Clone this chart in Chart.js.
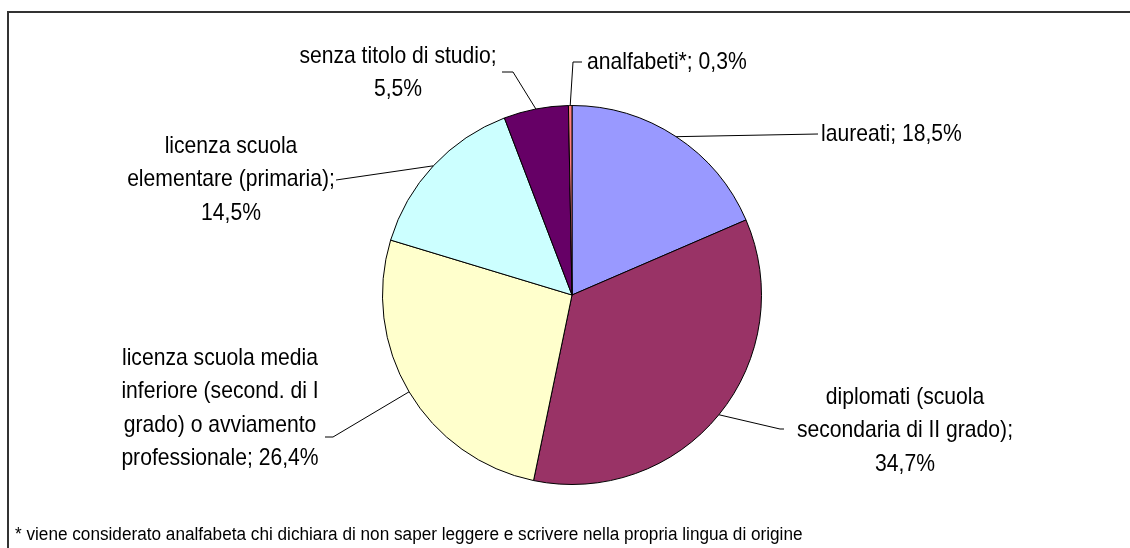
<!DOCTYPE html>
<html>
<head>
<meta charset="utf-8">
<script src="https://cdn.jsdelivr.net/npm/chart.js@4.4.0/dist/chart.umd.min.js"></script>
<style>
  body{margin:0;background:#fff}
  #wrap{width:1130px;height:548px;position:relative}
</style>
</head>
<body>
<div id="wrap"><canvas id="torta"></canvas></div>
<script>
// titoli di studio
const categorie=["laureati","diplomati (scuola secondaria di II grado)","licenza scuola media inferiore (second. di I grado) o avviamento professionale","licenza scuola elementare (primaria)","senza titolo di studio","analfabeti*"]
const percentuali=[18.5,34.7,26.4,14.5,5.5,0.3]
const colori=["#9999FF","#993366","#FFFFCC","#CCFFFF","#660066","#FF8080"]
const etichette=[
  ["laureati; 18,5%"],
  ["diplomati (scuola","secondaria di II grado);","34,7%"],
  ["licenza scuola media","inferiore (second. di I","grado) o avviamento","professionale; 26,4%"],
  ["licenza scuola","elementare (primaria);","14,5%"],
  ["senza titolo di studio;","5,5%"],
  ["analfabeti*; 0,3%"]
]
const nota="* viene considerato analfabeta chi dichiara di non saper leggere e scrivere nella propria lingua di origine"

// dove stanno i testi e le linee guida
const posTesti=[
  {x:821,y:134,align:"left",gomito:[[818,134]]},
  {x:905,y:397,align:"center",gomito:[[780,429],[784,429]]},
  {x:220,y:358,align:"center",gomito:[[333,437],[325,437]]},
  {x:231,y:146,align:"center",gomito:[[336,180]]},
  {x:398,y:56,align:"center",gomito:[[513,72],[502,72]]},
  {x:587,y:62,align:"left",gomito:[[573,62],[582,62]]}
]
const FONT="'Liberation Sans',Arial,sans-serif"

// niente font narrow: si stringe il testo a mano
function testoStretto(ctx,txt,x,y,sx){
  ctx.save()
  ctx.translate(x,y)
  ctx.scale(sx,1)
  ctx.fillText(txt,0,0)
  ctx.restore()
}

const pluginEtichette={
  id:"etichette",
  beforeDraw(chart){
    const ctx=chart.ctx
    ctx.save()
    ctx.fillStyle="#fff"
    ctx.fillRect(0,0,chart.width,chart.height)
    ctx.restore()
  },
  afterDraw(chart){
    const ctx=chart.ctx
    const arcs=chart.getDatasetMeta(0).data
    ctx.save()
    // cornice
    ctx.strokeStyle="#333"
    ctx.lineWidth=2
    ctx.beginPath()
    ctx.moveTo(8,560)
    ctx.lineTo(8,12)
    ctx.lineTo(1140,12)
    ctx.stroke()

    ctx.strokeStyle="#000"
    ctx.lineWidth=1
    ctx.fillStyle="#000"
    ctx.font="24px "+FONT
    ctx.textBaseline="middle"
    for(let i=0;i<arcs.length;i++){
      const a=arcs[i]
      const mid=(a.startAngle+a.endAngle)/2
      const px=a.x+Math.cos(mid)*a.outerRadius
      const py=a.y+Math.sin(mid)*a.outerRadius
      const p=posTesti[i]
      ctx.beginPath()
      ctx.moveTo(px,py)
      for(const g of p.gomito) ctx.lineTo(g[0],g[1])
      ctx.stroke()
      ctx.textAlign=p.align
      const righe=etichette[i]
      for(let r=0;r<righe.length;r++){
        testoStretto(ctx,righe[r],p.x,p.y+r*33.5,0.88)
      }
    }
    ctx.font="18px "+FONT
    ctx.textAlign="left"
    testoStretto(ctx,nota,15,535,0.954)
    ctx.restore()
  }
}

new Chart(document.querySelector("#torta"),{
  type:"pie",
  data:{
    labels:categorie,
    datasets:[{
      data:percentuali,
      backgroundColor:colori,
      borderColor:"#000",
      borderWidth:1
    }]
  },
  options:{
    responsive:true,
    maintainAspectRatio:false,
    animation:false,
    layout:{padding:{top:105,bottom:63,left:100,right:86}},
    plugins:{legend:{display:false},tooltip:{enabled:false}}
  },
  plugins:[pluginEtichette]
})
</script>
</body>
</html>
